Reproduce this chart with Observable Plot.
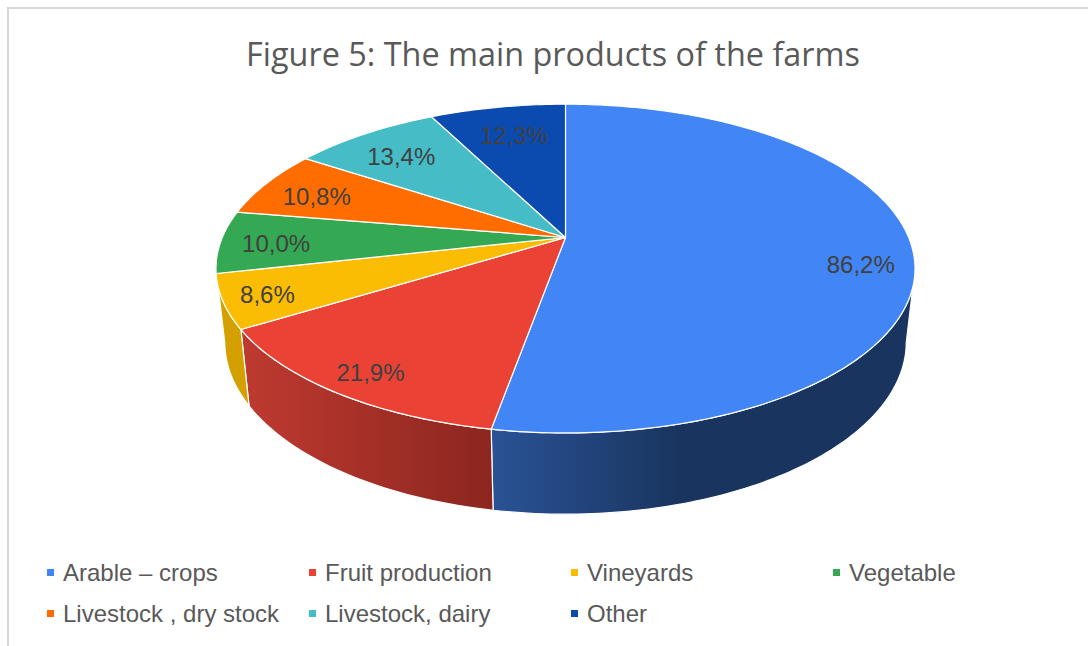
<!DOCTYPE html>
<html><head><meta charset="utf-8">
<script src="https://cdn.jsdelivr.net/npm/d3@7"></script>
<script src="https://cdn.jsdelivr.net/npm/@observablehq/plot@0.6"></script>
<style>
html,body{margin:0;padding:0;background:#fff;width:1088px;height:646px;overflow:hidden}
#frame{position:absolute;left:7px;top:7px;right:-4px;bottom:-4px;border:2px solid #d9d9d9}
#title{position:absolute;left:0;top:0;width:1106px;height:88px;text-align:center;font:32.4px/106px "Open Sans",sans-serif;color:#595959;white-space:nowrap}
#chart{position:absolute;left:0;top:88px}
#legend{position:absolute;left:47px;top:552px;display:grid;grid-template-columns:repeat(4,262px);grid-auto-rows:41px;font:24px/41px "Liberation Sans",sans-serif;color:#595959}
#legend div{white-space:nowrap;display:flex;align-items:center}
#legend i{display:inline-block;width:7px;height:7px;margin-right:9px}
</style></head><body>
<div id="frame"></div>
<div id="title">Figure 5: The main products of the farms</div>
<div id="chart"></div>
<div id="legend"></div>
<script>
const categories = ["Arable – crops","Fruit production","Vineyards","Vegetable","Livestock , dry stock","Livestock, dairy","Other"];
const values = [86.2,21.9,8.6,10.0,10.8,13.4,12.3];
const colors = ["#4285f4","#ea4335","#fbbc04","#34a853","#ff6d01","#46bdc6","#0b4bb0"];

// perspective of the tilted disc
const k = 0.189;                 // foreshortening toward the back
const plateH = 158.5, plateW = 343.2, cx = 565, cy = 149;
const baseShrink = 0.975, baseStretch = 166 / 158.5, baseDrop = 72 / 158.5;
const rad = d => d * Math.PI / 180;
const plate = (deg, r = 1) => {
  const u = r * Math.sin(rad(deg)), v = r * Math.cos(rad(deg)), w = 1 + k * v;
  return {x: u / w, y: v / w};
};
const base = deg => {
  const p = plate(deg);
  return {x: p.x * baseShrink, y: p.y * baseStretch - baseDrop};
};
const total = d3.sum(values);
const ends = Array.from(d3.cumsum(values), c => c / total * 360);
const slices = categories.map((name, i) => ({name, value: values[i], color: colors[i], a0: i ? ends[i - 1] : 0, a1: ends[i]}));
const arc = (f, a, b) => {
  const n = Math.max(2, Math.ceil(Math.abs(b - a)));
  return d3.range(n + 1).map(i => f(a + (b - a) * i / n));
};
const disc = slices.flatMap(s => {
  const pts = [{x: 0, y: 0}, ...arc(plate, s.a0, s.a1), {x: 0, y: 0}];
  return pts.map(p => ({...p, name: s.name, color: s.color}));
});
const wall = (t0, t1, b0, b1) => {
  const pts = [...arc(plate, t0, t1), ...arc(base, b1, b0)];
  return [...pts, pts[0]];
};
const seamA = ends[0], seamB = ends[1];
const wallBlue = wall(107, seamA, 101, seamA);
const wallRed = wall(seamA, seamB, seamA, seamB);
const wallYellow = wall(seamB, 253, seamB, 259);
const labels = slices.map(s => ({...plate((s.a0 + s.a1) / 2, 0.84), text: s.value.toFixed(1).replace(".", ",") + "%"}));
// label placement tweaks, in pixels, passed to the text mark as dx and dy
const nudgeX = [4, -8, -14, 0, 5, 8, 7];
const nudgeY = [16, 9, 5, 3, 6, 8, 11];

const gradient = (id, stops) => () => {
  const g = d3.create("svg:linearGradient").attr("id", id);
  stops.forEach(([o, c]) => g.append("stop").attr("offset", o).attr("stop-color", c));
  const defs = d3.create("svg:defs");
  defs.node().append(g.node());
  return defs.node();
};
const wallOpts = fill => ({x: "x", y: "y", fill, stroke: "#fff", strokeWidth: 1.2, curve: "linear"});

const plot = Plot.plot({
  width: 1088, height: 442, margin: 0,
  style: {background: "transparent"},
  x: {axis: null, domain: [-1, 1], range: [cx - plateW, cx + plateW]},
  y: {axis: null, domain: [-1, 1], range: [cy + plateH, cy - plateH]},
  color: {type: "identity"},
  marks: [
    gradient("gBlue", [[0, "#2a5296"], [0.45, "#19355f"], [1, "#19355f"]]),
    gradient("gRed", [[0, "#bf3a30"], [1, "#8b261f"]]),
    Plot.line(wallBlue, wallOpts("url(#gBlue)")),
    Plot.line(wallRed, wallOpts("url(#gRed)")),
    Plot.line(wallYellow, wallOpts("#d4a000")),
    Plot.line(disc, {x: "x", y: "y", z: "name", fill: "color", stroke: "#fff", strokeWidth: 1.2, strokeLinejoin: "round", curve: "linear"}),
    labels.map((d, i) => Plot.text([d], {x: "x", y: "y", text: "text", dx: nudgeX[i], dy: nudgeY[i], fill: "#404040", fontSize: 24, fontFamily: "Liberation Sans"}))
  ]
});
document.getElementById("chart").append(plot);
const legend = d3.select("#legend");
slices.forEach(s => {
  const row = legend.append("div");
  row.append("i").style("background", s.color);
  row.append("span").text(s.name);
});
</script>
</body></html>
